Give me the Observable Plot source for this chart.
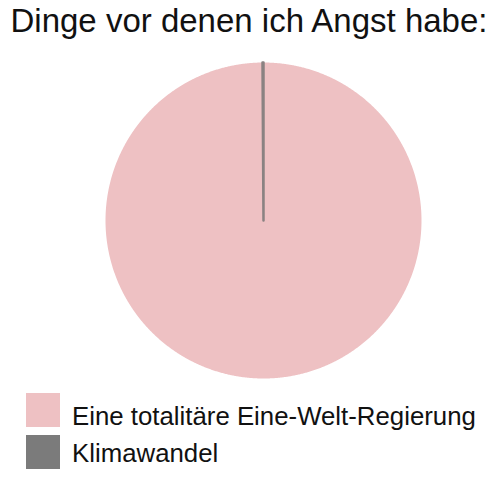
<!DOCTYPE html>
<html><head><meta charset="utf-8">
<script src="https://cdn.jsdelivr.net/npm/d3@7"></script>
<script src="https://cdn.jsdelivr.net/npm/@observablehq/plot@0.6"></script>
<style>
body{margin:0;background:#fff;font-family:"Liberation Sans",Arial,sans-serif;}
#wrap{position:relative;width:500px;height:484px;overflow:hidden;}
#title{position:absolute;left:-1px;top:4px;width:500px;text-align:center;font-size:33px;line-height:33px;color:#111;white-space:nowrap;}
#chart{position:absolute;left:0;top:56px;}
.sw{position:absolute;left:26px;width:34px;height:34px;}
.lab{position:absolute;left:72px;font-size:25.8px;line-height:1;color:#111;white-space:nowrap;}
</style></head><body>
<div id="wrap"><div id="title"></div><div id="chart"></div></div>
<script>
const title = "Dinge vor denen ich Angst habe:";
const categories = ["Eine totalitäre Eine-Welt-Regierung", "Klimawandel"];
const values = [99.9, 0.1];
const colors = ["#eec1c3", "#7b7b7b"];

const pie = d3.pie().sort(null).value(d => d.value)(categories.map((name, i) => ({name, value: values[i]})));
const pts = [];
for (const s of pie) {
  const n = Math.max(2, Math.ceil((s.endAngle - s.startAngle) / 0.005));
  pts.push({name: s.data.name, x: 0, y: 0});
  for (let k = 0; k <= n; k++) {
    const a = s.startAngle + (s.endAngle - s.startAngle) * k / n;
    pts.push({name: s.data.name, x: Math.sin(a), y: Math.cos(a)});
  }
  pts.push({name: s.data.name, x: 0, y: 0});
}
const W = 500, H = 330, cx = 263, cy = 164, R = 158;
const chart = Plot.plot({
  width: W, height: H, margin: 0,
  x: {domain: [-cx / R, (W - cx) / R], axis: null},
  y: {domain: [-(H - cy) / R, cy / R], axis: null},
  color: {domain: categories, range: colors},
  marks: [
    Plot.line(pts, {x: "x", y: "y", z: "name", fill: "name", stroke: null}),
    Plot.line(pts.filter(d => d.name === categories[1]), {x: "x", y: "y", z: "name", stroke: "#8a8282", strokeWidth: 2.5, fill: "name"})
  ]
});
document.getElementById("chart").appendChild(chart);
document.getElementById("title").textContent = title;
const wrap = document.getElementById("wrap");
const swTops = [393, 435], labTops = [404, 441];
categories.forEach((c, i) => {
  const sw = document.createElement("div"); sw.className = "sw"; sw.style.background = colors[i]; sw.style.top = swTops[i] + "px";
  const lb = document.createElement("div"); lb.className = "lab"; lb.textContent = c; lb.style.top = labTops[i] + "px";
  wrap.appendChild(sw); wrap.appendChild(lb);
});
</script></body></html>
